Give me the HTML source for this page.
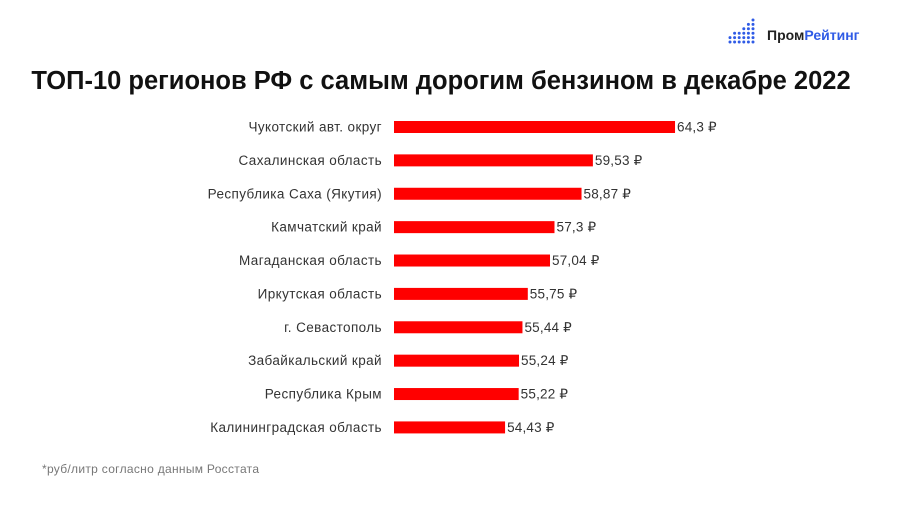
<!DOCTYPE html>
<html><head><meta charset="utf-8"><style>
body{margin:0;background:#fff;font-family:"Liberation Sans",sans-serif;}
#wrap{position:relative;width:900px;height:507px;overflow:hidden;}
</style></head><body>
<div id="wrap">
<svg id="chart" width="900" height="507">
  <g id="logo"></g>
  <text x="767" y="40" font-size="14" font-weight="bold" fill="#222">Пром<tspan fill="#2f5be6">Рейтинг</tspan></text>
  <text x="441" y="89" text-anchor="middle" font-size="25.5" font-weight="bold" fill="#111">ТОП-10 регионов РФ с самым дорогим бензином в декабре 2022</text>
  <g id="bars"></g>
  <text x="42" y="473" font-size="12" fill="#777" letter-spacing="0.3">*руб/литр согласно данным Росстата</text>
</svg>
</div>
<script>
const categories=["Чукотский авт. округ","Сахалинская область","Республика Саха (Якутия)","Камчатский край","Магаданская область","Иркутская область","г. Севастополь","Забайкальский край","Республика Крым","Калининградская область"];
const values=[64.3,59.53,58.87,57.3,57.04,55.75,55.44,55.24,55.22,54.43];
const valueLabels=["64,3 ₽","59,53 ₽","58,87 ₽","57,3 ₽","57,04 ₽","55,75 ₽","55,44 ₽","55,24 ₽","55,22 ₽","54,43 ₽"];
const NS="http://www.w3.org/2000/svg";
const x0=394,xMin=47.98,pxPer=17.22;
function xs(v){return x0+(v-xMin)*pxPer;}
function ys(i){return 127+i*33.38;}
const g=document.getElementById('bars');
categories.forEach((c,i)=>{
  const y=ys(i);
  const t=document.createElementNS(NS,'text');
  t.setAttribute('x',382);t.setAttribute('y',y+4.5);t.setAttribute('text-anchor','end');
  t.setAttribute('font-size','13.5');t.setAttribute('letter-spacing','0.4');t.setAttribute('fill','#333');t.textContent=c;
  
  
  g.appendChild(t);
  const r=document.createElementNS(NS,'rect');
  r.setAttribute('x',x0);r.setAttribute('y',y-6);r.setAttribute('width',xs(values[i])-x0);r.setAttribute('height',12);r.setAttribute('fill','#ff0000');
  
  
  g.appendChild(r);
  const v=document.createElementNS(NS,'text');
  v.setAttribute('x',xs(values[i])+2);v.setAttribute('y',y+4.5);v.setAttribute('font-size','13.5');v.setAttribute('letter-spacing','0.2');v.setAttribute('fill','#333');v.textContent=valueLabels[i];
  
  
  g.appendChild(v);
});
const lg=document.getElementById('logo');
const cols=[2,3,3,4,5,6];
cols.forEach((n,ci)=>{for(let k=0;k<n;k++){const c=document.createElementNS(NS,'circle');
c.setAttribute('cx',730+ci*4.6);c.setAttribute('cy',42-k*4.4);c.setAttribute('r',1.5);c.setAttribute('fill','#2f5be6');lg.appendChild(c);}});
</script>
</body></html>
